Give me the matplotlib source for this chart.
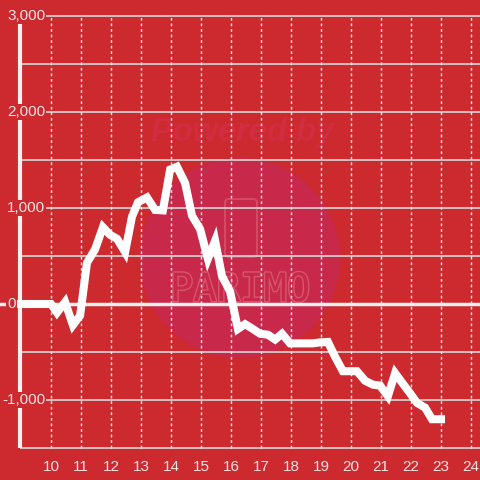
import matplotlib
matplotlib.use("Agg")
import matplotlib.pyplot as plt
from matplotlib.patches import Circle, FancyBboxPatch
import matplotlib.patheffects as pe

# hour of day and cumulative value
hours = [9.0, 10.0, 10.2, 10.47, 10.73, 10.97, 11.2, 11.47, 11.73, 11.97,
         12.2, 12.47, 12.7, 12.9, 13.2, 13.47, 13.73, 13.97, 14.2, 14.47,
         14.7, 14.97, 15.23, 15.47, 15.7, 15.97, 16.23, 16.47, 16.73, 16.97,
         17.23, 17.47, 17.7, 17.97, 18.23, 18.47, 18.73, 18.97, 19.23, 19.47,
         19.73, 19.97, 20.2, 20.47, 20.73, 20.97, 21.23, 21.47, 21.73, 21.97,
         22.2, 22.47, 22.7, 23.0]
values = [0, 0, -90, 20, -220, -120, 430, 570, 800, 720,
          680, 540, 910, 1060, 1110, 980, 975, 1400, 1430, 1260,
          920, 780, 470, 660, 290, 130, -260, -210, -260, -310,
          -320, -370, -310, -410, -410, -410, -410, -400, -395, -550,
          -700, -700, -700, -800, -840, -850, -960, -720, -830, -930,
          -1030, -1080, -1200, -1200]

x_ticks = list(range(10, 25))
y_labels = [3000, 2000, 1000, 0, -1000]
y_grid = [3000, 2500, 2000, 1500, 1000, 500, -500, -1000, -1500]

bg = "#cc2a2e"
txt = "#f6e4e4"

fig = plt.figure(figsize=(4.8, 4.8), dpi=100, facecolor=bg)
ax = fig.add_axes([0, 0, 1, 1], facecolor=bg)
ax.set_xlim(8.3, 24.3)
ax.set_ylim(-1833.3, 3166.7)
ax.axis("off")

# watermark (behind grid and line)
ax.add_patch(Circle((0.5, 1 - 258 / 480), 100 / 480, transform=fig.transFigure,
                    facecolor="#c8284a", edgecolor="none", zorder=0))
ax.add_patch(FancyBboxPatch((225 / 480, 1 - 257 / 480), 32 / 480, 58 / 480,
                            boxstyle="round,pad=0,rounding_size=0.008",
                            transform=fig.transFigure, facecolor="none",
                            edgecolor="#d34a64", linewidth=1.5, zorder=1))
ax.text(0.505, 1 - 132 / 480, "Powered by", ha="center", va="center", fontsize=23.5,
        fontweight="bold", style="italic", color="#d22c40", family="Liberation Sans",
        transform=fig.transFigure, zorder=1)
ax.text(240 / 480, 1 - 290 / 480, "PARIMO", ha="center", va="center", fontsize=28,
        family="DejaVu Sans Mono", color="#c8284a", zorder=1, transform=fig.transFigure,
        path_effects=[pe.withStroke(linewidth=2, foreground="#d5566c")])

# grid
ax.hlines(y_grid, 20 / 30 + 8.3, 24.3, color="#d9d9d9", linewidth=1.2, zorder=2)
ax.vlines(x_ticks, -1500, 3000, color="#eeeeee", linewidth=1, linestyles=(0, (2, 2)), zorder=2)
ax.axhline(0, color="#f4f0f0", linewidth=2.5, zorder=3)
ax.vlines([8.3 + 20 / 30], -1500, 2917, color="#f4f0f0", linewidth=3, zorder=3)

# line
ax.plot(hours, values, color="white", linewidth=5.8, solid_joinstyle="miter", zorder=5)

for v in y_labels:
    x0 = 8.3 + (2 if v < 0 else 7) / 30
    ax.text(x0, v, f"{v:,}", ha="left", va="center", fontsize=11,
            color=txt, family="Liberation Sans", zorder=6,
            bbox=dict(facecolor=bg, edgecolor="none", pad=1))

for t in x_ticks:
    ax.text(t, -1695, str(t), ha="center", va="center", fontsize=11, color=txt,
            family="Liberation Sans", zorder=6)

fig.savefig("out.png", dpi=100, facecolor=bg)
